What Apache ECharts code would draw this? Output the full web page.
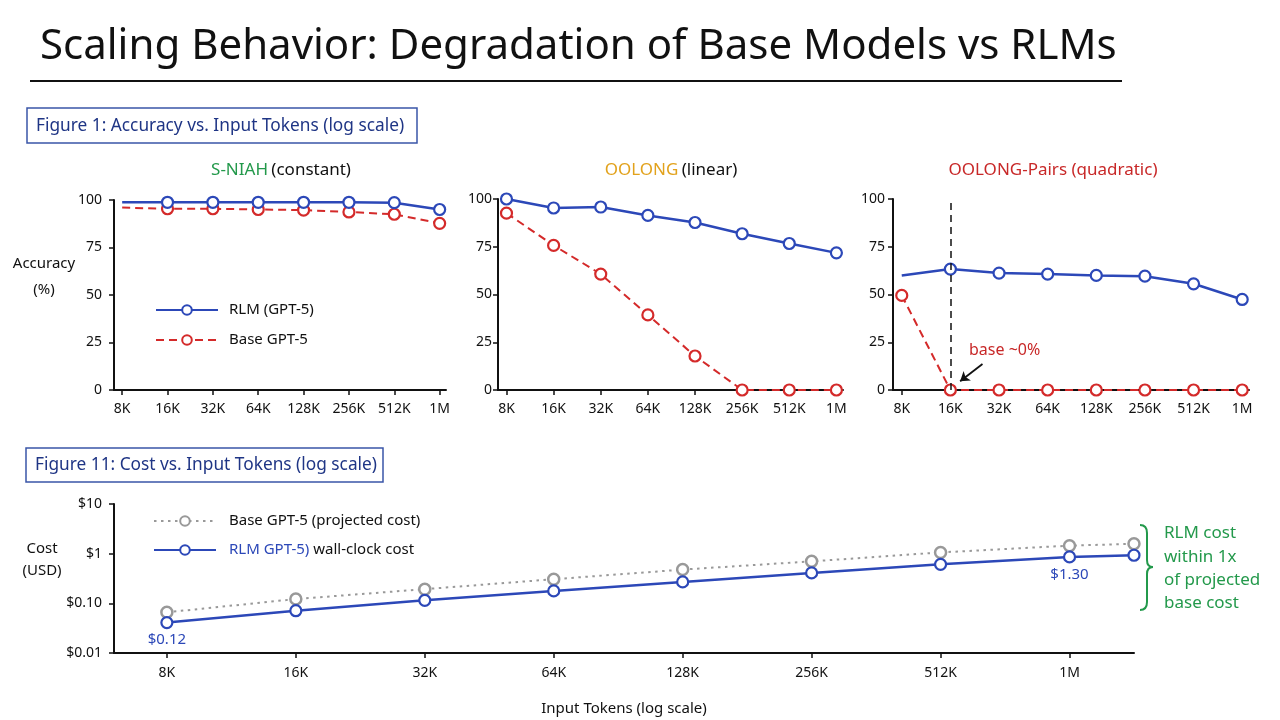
<!DOCTYPE html>
<html><head><meta charset="utf-8">
<script src="https://cdn.jsdelivr.net/npm/echarts@6/dist/echarts.min.js"></script>
<style>html,body{margin:0;padding:0;background:#fff}#c{width:1280px;height:720px}</style>
</head><body><div id="c"></div>
<script>
// ---------- data ----------
const tokenLabels = ['8K','16K','32K','64K','128K','256K','512K','1M'];
const tokenPos = [0,1,2,3,4,5,6,7];           // log2(tokens / 8K)
const sniahRLM   = [98.8, 98.8, 98.8, 98.8, 98.8, 98.8, 98.6, 95.0];
const sniahBase  = [96.0, 95.4, 95.4, 95.0, 94.7, 93.7, 92.5, 87.7];
const oolongRLM  = [100, 95.3, 95.8, 91.4, 87.7, 81.8, 76.7, 71.8];
const oolongBase = [92.6, 75.7, 60.7, 39.3, 17.8, 0, 0, 0];
const pairsRLM   = [60.0, 63.3, 61.2, 60.7, 60.0, 59.6, 55.6, 47.4];
const pairsBase  = [49.5, 0, 0, 0, 0, 0, 0, 0];
const costTokensK = [8, 16, 32, 64, 128, 256, 512, 1024, 1448];
const costBase = [0.066, 0.122, 0.193, 0.306, 0.478, 0.70, 1.06, 1.45, 1.58];
const costRLM  = [0.041, 0.071, 0.115, 0.178, 0.27, 0.41, 0.61, 0.86, 0.93];
const costTickLabels = ['$0.01', '$0.10', '$1', '$10'];

// ---------- style ----------
const FONT = 'Noto Sans';
const BLUE = '#2c48b8', RED = '#d42a2a', GRAY = '#999999', GREEN = '#23994b', ORANGE = '#e2a21c', INK = '#111111';

const chart = echarts.init(document.getElementById('c'), null, {renderer: 'canvas'});

function xy(vals, hideFirst) {
  return vals.map((v, i) => {
    const d = {value: [tokenPos[i], v]};
    if (hideFirst && i === 0) d.symbol = 'none';
    return d;
  });
}
function topX(gi) {
  return {
    type: 'value', gridIndex: gi, min: -0.18, max: 7.14,
    axisLine: {show: true, onZero: false, lineStyle: {color: INK, width: 2}},
    axisTick: {show: true, customValues: tokenPos, length: 5, lineStyle: {color: INK, width: 1.5}},
    axisLabel: {customValues: tokenPos, formatter: v => tokenLabels[Math.round(v)], fontSize: 14, color: INK, margin: 12, fontFamily: FONT},
    splitLine: {show: false}
  };
}
function topY(gi, margin) {
  return {
    type: 'value', gridIndex: gi, min: 0, max: 100, interval: 25,
    axisLine: {show: true, onZero: false, lineStyle: {color: INK, width: 2}},
    axisTick: {show: true, length: 5, lineStyle: {color: INK, width: 1.5}},
    axisLabel: {fontSize: 14, color: INK, margin: margin, fontFamily: FONT},
    splitLine: {show: false}
  };
}
function ser(name, gi, data, color, type, extra) {
  return Object.assign({
    name: name, type: 'line', xAxisIndex: gi, yAxisIndex: gi, data: data,
    symbol: 'circle', symbolSize: 11, showAllSymbol: true,
    lineStyle: {color: color, width: type === 'solid' ? 2.5 : 2, type: type},
    itemStyle: {color: '#ffffff', borderColor: color, borderWidth: 2.2},
    emphasis: {disabled: true}, animation: false, z: type === 'solid' ? 4 : 3
  }, extra || {});
}
function gtext(x, y, text, fill, size, align) {
  return {type: 'text', x: x, y: y, style: {text: text, fill: fill, fontSize: size, fontFamily: FONT, align: align || 'left', verticalAlign: 'middle'}};
}
const bs = {stroke: GREEN, lineWidth: 2, fill: null};

const option = {
  backgroundColor: '#ffffff',
  animation: false,
  textStyle: {fontFamily: FONT},
  grid: [
    {left: 114, top: 200, width: 332, height: 190},
    {left: 498, top: 199, width: 345, height: 191},
    {left: 893, top: 199, width: 356, height: 191},
    {left: 114, top: 504, width: 1020, height: 149}
  ],
  xAxis: [
    topX(0), topX(1), topX(2),
    {
      type: 'value', gridIndex: 3, min: -0.41, max: 7.5,
      axisLine: {show: true, onZero: false, lineStyle: {color: INK, width: 2}},
      axisTick: {show: true, customValues: tokenPos, length: 5, lineStyle: {color: INK, width: 1.5}},
      axisLabel: {customValues: tokenPos, formatter: v => tokenLabels[Math.round(v)], fontSize: 14, color: INK, margin: 13, fontFamily: FONT},
      splitLine: {show: false},
      name: 'Input Tokens (log scale)', nameLocation: 'middle', nameGap: 48,
      nameTextStyle: {fontSize: 15, color: INK, fontFamily: FONT}
    }
  ],
  yAxis: [
    topY(0, 12), topY(1, 6), topY(2, 8),
    {
      type: 'log', logBase: 10, gridIndex: 3, min: 0.01, max: 10,
      axisLine: {show: true, onZero: false, lineStyle: {color: INK, width: 2}},
      axisTick: {show: true, length: 5, lineStyle: {color: INK, width: 1.5}},
      axisLabel: {fontSize: 14, color: INK, margin: 12, fontFamily: FONT,
        formatter: v => costTickLabels[Math.round(Math.log10(v)) + 2]},
      splitLine: {show: false}, minorTick: {show: false}
    }
  ],
  legend: [
    {
      data: ['RLM (GPT-5)', 'Base GPT-5'], orient: 'vertical', left: 150, top: 295,
      itemWidth: 62, itemHeight: 12, itemGap: 10,
      textStyle: {fontSize: 15, color: INK, fontFamily: FONT, padding: [0, 0, 0, 6], lineHeight: 20},
      selectedMode: false
    },
    {
      data: ['Base GPT-5 (projected cost)', 'RLM GPT-5) wall-clock cost'], orient: 'vertical', left: 148, top: 506,
      itemWidth: 62, itemHeight: 12, itemGap: 9,
      formatter: n => n === 'RLM GPT-5) wall-clock cost' ? '{b|RLM GPT-5)} wall-clock cost' : n,
      textStyle: {fontSize: 15, color: INK, fontFamily: FONT, padding: [0, 0, 0, 8], lineHeight: 20,
        rich: {b: {color: BLUE, fontSize: 15, fontFamily: FONT, lineHeight: 20}}},
      selectedMode: false
    }
  ],
  series: [
    ser('Base GPT-5', 0, xy(sniahBase, true), RED, [8, 5]),
    ser('RLM (GPT-5)', 0, xy(sniahRLM, true), BLUE, 'solid'),
    ser('Base GPT-5', 1, xy(oolongBase, false), RED, [8, 5]),
    ser('RLM (GPT-5)', 1, xy(oolongRLM, false), BLUE, 'solid'),
    ser('Base GPT-5', 2, xy(pairsBase, false), RED, [8, 5], {
      markLine: {
        silent: true, animation: false, label: {show: false}, symbol: ['none', 'none'],
        data: [
          {xAxis: 1, lineStyle: {color: INK, type: [7, 5], width: 1.5}},
          [
            {coord: [1.66, 13.6], symbol: 'none', lineStyle: {color: INK, type: 'solid', width: 1.8}},
            {coord: [1.2, 4.6], symbol: 'arrow', symbolSize: 9}
          ]
        ]
      }
    }),
    ser('RLM (GPT-5)', 2, xy(pairsRLM, true), BLUE, 'solid'),
    ser('Base GPT-5 (projected cost)', 3, costBase.map((v, i) => [Math.log2(costTokensK[i] / 8), v]), GRAY, [3, 4], {
      lineStyle: {color: GRAY, width: 2, type: [2.5, 4.5]}, itemStyle: {color: '#fff', borderColor: GRAY, borderWidth: 2.5}
    }),
    ser('RLM GPT-5) wall-clock cost', 3, costRLM.map((v, i) => {
      const d = {value: [Math.log2(costTokensK[i] / 8), v]};
      if (i === 0) d.label = {show: true, formatter: '$0.12', position: 'bottom', distance: 3, color: BLUE, fontSize: 15, fontFamily: FONT};
      if (i === 7) d.label = {show: true, formatter: '$1.30', position: 'bottom', distance: 4, color: BLUE, fontSize: 15, fontFamily: FONT};
      return d;
    }), BLUE, 'solid')
  ],
  graphic: [
    // main title
    gtext(40, 47, 'Scaling Behavior: Degradation of Base Models vs RLMs', INK, 42),
    {type: 'line', shape: {x1: 30, y1: 81, x2: 1122, y2: 81}, style: {stroke: INK, lineWidth: 2}},
    // figure boxes
    {type: 'rect', shape: {x: 27, y: 108, width: 390, height: 35}, style: {fill: '#fff', stroke: '#3a55a8', lineWidth: 1.5}},
    gtext(36, 126, 'Figure 1: Accuracy vs. Input Tokens (log scale)', '#1f3585', 17.3),
    {type: 'rect', shape: {x: 26, y: 448, width: 357, height: 34}, style: {fill: '#fff', stroke: '#3a55a8', lineWidth: 1.5}},
    gtext(35, 465, 'Figure 11: Cost vs. Input Tokens (log scale)', '#1f3585', 17.3),
    // subplot titles
    {type: 'text', x: 281, y: 170, style: {text: '{g|S-NIAH} {k|(constant)}', align: 'center', verticalAlign: 'middle',
      rich: {g: {fill: GREEN, fontSize: 17, fontFamily: FONT}, k: {fill: INK, fontSize: 17, fontFamily: FONT}}}},
    {type: 'text', x: 671, y: 170, style: {text: '{o|OOLONG} {k|(linear)}', align: 'center', verticalAlign: 'middle',
      rich: {o: {fill: ORANGE, fontSize: 17, fontFamily: FONT}, k: {fill: INK, fontSize: 17, fontFamily: FONT}}}},
    gtext(1053, 170, 'OOLONG-Pairs (quadratic)', '#c82828', 17, 'center'),
    // y-axis titles
    gtext(44, 264, 'Accuracy', INK, 15, 'center'),
    gtext(44, 290, '(%)', INK, 15, 'center'),
    gtext(42, 549, 'Cost', INK, 15, 'center'),
    gtext(42, 571, '(USD)', INK, 15, 'center'),
    // annotation chart 3
    gtext(969, 350, 'base ~0%', '#c82828', 16),
    // green bracket + note
    {type: 'bezierCurve', shape: {x1: 1140, y1: 525, cpx1: 1147, cpy1: 525, x2: 1147, y2: 533}, style: bs},
    {type: 'line', shape: {x1: 1147, y1: 533, x2: 1147, y2: 560}, style: bs},
    {type: 'bezierCurve', shape: {x1: 1147, y1: 560, cpx1: 1147, cpy1: 567, x2: 1153, y2: 567}, style: bs},
    {type: 'bezierCurve', shape: {x1: 1153, y1: 567, cpx1: 1147, cpy1: 567, x2: 1147, y2: 574}, style: bs},
    {type: 'line', shape: {x1: 1147, y1: 574, x2: 1147, y2: 602}, style: bs},
    {type: 'bezierCurve', shape: {x1: 1147, y1: 602, cpx1: 1147, cpy1: 610, x2: 1140, y2: 610}, style: bs},
    gtext(1164, 533, 'RLM cost', GREEN, 17),
    gtext(1164, 557, 'within 1x', GREEN, 17),
    gtext(1164, 580, 'of projected', GREEN, 17),
    gtext(1164, 603, 'base cost', GREEN, 17)
  ]
};
chart.setOption(option);
</script>
</body></html>
